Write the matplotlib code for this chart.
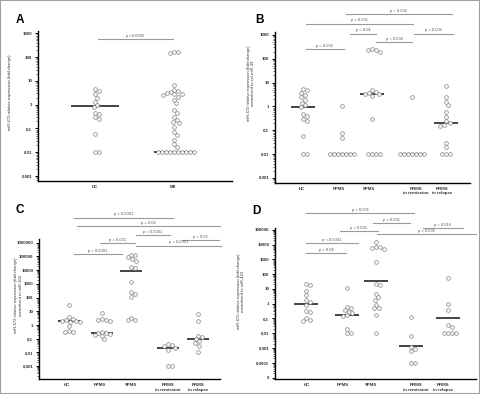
import numpy as np
import matplotlib
matplotlib.use("Agg")
import matplotlib.pyplot as plt
from matplotlib.lines import Line2D
from matplotlib.patches import Rectangle
from matplotlib.ticker import LogLocator, NullFormatter

plt.rcParams['font.family'] = ['Liberation Sans', 'DejaVu Sans']

# ---- data ----
A_GROUPS = ["HC", "MS"]
A_HC = [4.5, 3.9, 2.7, 1.9, 1.35, 1.0, 0.82, 0.46, 0.39, 0.30, 0.25, 0.06, 0.01, 0.01]
A_MS = [170, 160, 150, 6.5, 4.1, 3.6, 3.3, 3.1, 2.9, 2.7, 2.5, 2.2, 1.6, 1.15, 0.6, 0.44,
        0.31, 0.23, 0.19, 0.165, 0.12, 0.073, 0.053, 0.033, 0.022, 0.017] + [0.01] * 10
A_MED = [0.85, 0.01]

GROUPS5 = ["HC", "PPMS", "SPMS", "RRMS\nin remission", "RRMS\nin relapse"]

B_HC = [5.3, 5.0, 3.8, 3.0, 2.4, 1.9, 1.45, 1.15, 0.98, 0.48, 0.40, 0.29, 0.25, 0.058, 0.01, 0.01]
B_PPMS = [1.1, 0.075, 0.048] + [0.01] * 7
B_SPMS = [250, 240, 230, 200, 4.8, 4.0, 3.6, 3.4, 3.2, 2.8, 0.3, 0.01, 0.01, 0.01, 0.01]
B_REM = [2.5] + [0.01] * 7
B_REL = [7.2, 2.4, 1.6, 1.15, 0.6, 0.37, 0.24, 0.2, 0.17, 0.15, 0.03, 0.02, 0.01, 0.01, 0.01]
B_MED = [0.95, 0.01, 3.4, 0.01, 0.2]

C_HC = [29, 3.8, 2.8, 2.5, 2.0, 1.9, 1.7, 1.6, 0.85, 0.35, 0.33, 0.3]
C_PPMS = [7.5, 2.7, 2.4, 2.2, 2.1, 0.33, 0.28, 0.26, 0.22, 0.19, 0.16, 0.09]
C_SPMS = [130000, 120000, 85000, 60000, 50000, 18000, 14000, 1450, 240, 170, 116, 3.1, 2.3, 2.2]
C_REM = [0.04, 0.035, 0.03, 0.022, 0.015, 0.001, 0.001]
C_REL = [6.0, 2.0, 0.17, 0.13, 0.1, 0.065, 0.045, 0.03, 0.011]
C_MED = [1.85, 0.27, 8500, 0.02, 0.1]

D_HC = [20, 18, 7.5, 3.8, 1.8, 1.35, 0.8, 0.32, 0.26, 0.11, 0.075, 0.07]
D_PPMS = [11, 0.6, 0.55, 0.37, 0.29, 0.22, 0.17, 0.15, 0.019, 0.01, 0.01]
D_SPMS = [15700, 7000, 6500, 6000, 5000, 700, 22, 18, 4.7, 2.7, 1.8, 0.8, 0.5, 0.5, 0.18, 0.01]
D_REM = [0.12, 0.0066, 0.0012, 0.00087, 0.0006, 0.0001, 0.0001]
D_REL = [52, 1.0, 0.4, 0.036, 0.025, 0.011, 0.011, 0.011, 0.011]
D_MED = [0.95, 0.17, 33, 0.0014, 0.1]

YLAB = "miR-672 relative expression (fold change)"

W, H = 480, 394
fig = plt.figure(figsize=(W / 100, H / 100), dpi=100)


def add_axes_px(x0, ytop, x1, ybot):
    return fig.add_axes([x0 / W, 1 - ybot / H, (x1 - x0) / W, (ybot - ytop) / H])


def swarm(ax, xc, values, d=3.9):
    """simple beeswarm in display pixels"""
    pts = np.column_stack([np.full(len(values), xc), values])
    disp = ax.transData.transform(pts)
    placed, offs = [], []
    for y in disp[:, 1]:
        best = None
        k = 0
        while best is None:
            for s in ([0.0] if k == 0 else [k * 0.5, -k * 0.5]):
                if all((s - px) ** 2 + (y - py) ** 2 >= d * d for px, py in placed):
                    best = s
                    break
            k += 1
        placed.append((best, y))
        offs.append(best)
    disp[:, 0] += np.array(offs)
    return ax.transData.inverted().transform(disp)[:, 0]


def panel(rect, ylim, yticks, yticklabels, pos, tickpos, names, groups, meds, half,
          ylabel, labxy, letter, letterxy, brackets):
    ax = add_axes_px(*rect)
    ax.set_yscale("log")
    ax.set_xlim(0, rect[2] - rect[0])
    ax.set_ylim(*ylim)
    ax.set_yticks(yticks)
    ax.set_yticklabels(yticklabels)
    ax.yaxis.set_minor_locator(LogLocator(base=10, subs=np.arange(2, 10), numticks=30))
    ax.yaxis.set_minor_formatter(NullFormatter())
    ax.set_xticks(tickpos)
    ax.set_xticklabels(names)
    ax.tick_params(axis="y", which="major", length=2.5, width=0.7, labelsize=3.2, pad=1.5,
                   labelcolor="#333")
    ax.tick_params(axis="y", which="minor", length=1.2, width=0.4)
    ax.tick_params(axis="x", length=0, labelsize=3.2, pad=3, labelcolor="#333")
    for lab in ax.get_xticklabels() + ax.get_yticklabels():
        lab.set_fontweight("bold")
    for s in ["top", "right"]:
        ax.spines[s].set_visible(False)
    for s in ["left", "bottom"]:
        ax.spines[s].set_linewidth(1.0)
    ax.set_ylabel(ylabel, fontsize=3.0, color="#333", linespacing=1.1)
    ax.yaxis.set_label_coords(*labxy)

    for xc, vals, m, hw in zip(pos, groups, meds, half):
        ax.hlines(m, xc - hw, xc + hw, color="#111", lw=1.1, zorder=2)
        xs = swarm(ax, xc, vals)
        ax.scatter(xs, vals, s=7, facecolor="white", edgecolor="#7f7f7f", linewidth=0.5,
                   zorder=3, clip_on=False)

    fig.text(letterxy[0] / W, 1 - letterxy[1] / H, letter, fontsize=8.5, fontweight="bold",
             ha="center", va="center")
    for x0, x1, y, txt in brackets:
        fig.add_artist(Line2D([x0 / W, x1 / W], [1 - y / H] * 2, transform=fig.transFigure,
                              color="#9a9a9a", lw=0.8))
        fig.text((x0 + x1) / 2 / W, 1 - (y - 1.2) / H, txt, fontsize=3.0, color="#555",
                 ha="center", va="bottom")
    return ax


# A
panel((38, 31, 232, 181), (0.00062, 1250), [1000, 100, 10, 1, 0.1, 0.01, 0.001],
      ["1000", "100", "10", "1", "0,1", "0.01", "0.001"],
      [57, 136], [57, 135], A_GROUPS, [A_HC, A_MS], A_MED, [24, 20],
      YLAB, (-0.134, 0.59), "A", (20, 20),
      [(98, 173, 38.7, "p =0.0025")])

# B
panel((275, 32, 470, 182.7), (0.000635, 1336), [1000, 100, 10, 1, 0.1, 0.01, 0.001],
      ["1000", "100", "10", "1", "0,1", "0.01", "0.001"],
      [28, 67, 97, 137, 171], [27, 64, 94, 141, 167], GROUPS5,
      [B_HC, B_PPMS, B_SPMS, B_REM, B_REL], B_MED, [12] * 5,
      YLAB + "\nnormalized to cel-miR-39", (-0.103, 0.66), "B", (259, 20),
      [(346, 452, 14.3, "p = 0.002"), (306, 413, 23.7, "p = 0.001"),
       (350, 376, 33.7, "p = 0.01"), (414, 453, 33.7, "p = 0.001"),
       (376, 412, 42.3, "p = 0.002"), (306, 344, 48.7, "p = 0.001")])

# C
panel((39, 239, 220, 379.3), (0.00011, 1.87e6),
      [1e6, 1e5, 1e4, 1e3, 100, 10, 1, 0.1, 0.01, 0.001],
      ["1000000", "100000", "10000", "1000", "100", "10", "1", "0,1", "0,01", "0,001"],
      [30, 63, 92, 129, 159], [28, 61, 92, 129, 159], GROUPS5,
      [C_HC, C_PPMS, C_SPMS, C_REM, C_REL], C_MED, [11] * 5,
      YLAB + "\nnormalized to miR-103", (-0.09, 0.60), "C", (20, 210),
      [(74, 173, 217.7, "p = 0.0001"), (77, 220, 226, "p = 0.02"),
       (136, 170, 235, "p = 0.0001"), (182, 219, 240, "p = 0.02"),
       (100, 135, 243.3, "p = 0.001"), (136, 221, 245.7, "p = 0.0001"),
       (74, 122, 254.3, "p = 0.0001")])

# D
panel((275, 228.3, 476, 379), (8e-6, 1.27e5),
      [1e5, 1e4, 1e3, 100, 10, 1, 0.1, 0.01, 0.001, 0.0001, 1e-5],
      ["100000", "10000", "1000", "100", "10", "1", "0,1", "0,01", "0,001", "0,0001", "0"],
      [31, 72, 101, 136, 173], [32, 68, 96, 141, 168], GROUPS5,
      [D_HC, D_PPMS, D_SPMS, D_REM, D_REL], D_MED, [12] * 5,
      YLAB + "\nnormalized to miR-423", (-0.147, 0.58), "D", (256, 211),
      [(306, 414, 213.3, "p < 0.001"), (373, 410, 223, "p < 0.001"),
       (423, 463, 228.3, "p = 0.016"), (340, 378, 231.3, "p < 0.001"),
       (377, 476, 234, "p = 0.005"), (306, 358, 242.7, "p < 0.0001"),
       (306, 346, 252.7, "p = 0.04")])

fig.add_artist(Rectangle((0, 0), 1, 1, transform=fig.transFigure, fill=False,
                         edgecolor="#a0a0a0", lw=1.5))

fig.savefig("out.png", dpi=100)
